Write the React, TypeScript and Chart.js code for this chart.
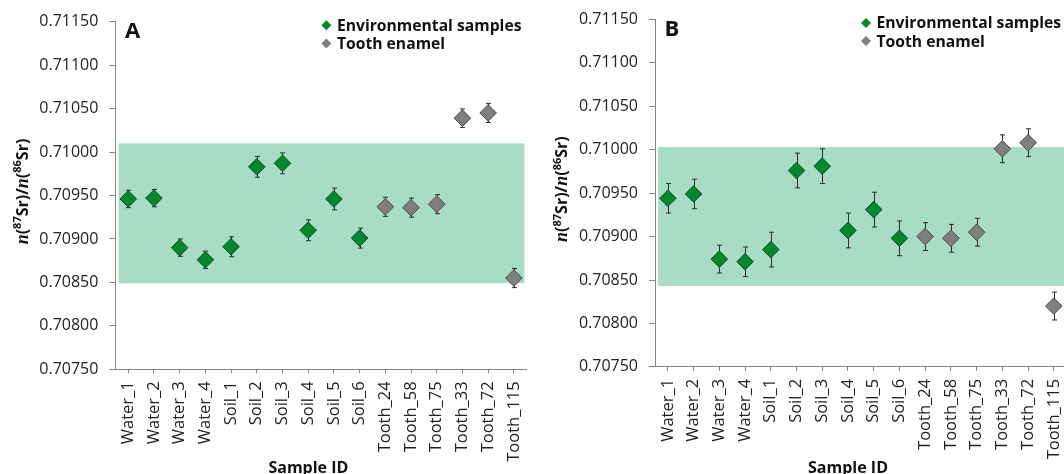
import React, { useEffect, useRef } from 'react';
import { Chart, registerables } from 'chart.js';

Chart.register(...registerables);

// ---------- data ----------
const categories = [
  'Water_1', 'Water_2', 'Water_3', 'Water_4',
  'Soil_1', 'Soil_2', 'Soil_3', 'Soil_4', 'Soil_5', 'Soil_6',
  'Tooth_24', 'Tooth_58', 'Tooth_75', 'Tooth_33', 'Tooth_72', 'Tooth_115',
];
const yMin = 0.7075;
const yMax = 0.7115;
const yStep = 0.0005;

const legendLabels = ['Environmental samples', 'Tooth enamel'];
const xTitle = 'Sample ID';

// Panel A
const envA = [0.70946, 0.70947, 0.70890, 0.70876, 0.70891, 0.70983, 0.70987, 0.70910, 0.70946, 0.70901];
const envErrA = [0.00010, 0.00010, 0.00010, 0.00010, 0.000115, 0.00012, 0.00012, 0.00012, 0.000125, 0.000115];
const toothA = [0.70937, 0.70936, 0.70940, 0.71039, 0.71045, 0.70855];
const toothErrA = [0.00011, 0.00011, 0.00011, 0.000106, 0.00011, 0.00011];
const bandA = [0.70849, 0.71010];

// Panel B
const envB = [0.70944, 0.70949, 0.70874, 0.70871, 0.70885, 0.70976, 0.70981, 0.70907, 0.70931, 0.70898];
const envErrB = [0.00017, 0.00017, 0.00016, 0.00017, 0.0002, 0.0002, 0.0002, 0.0002, 0.0002, 0.0002];
const toothB = [0.70900, 0.70898, 0.70905, 0.71001, 0.71008, 0.70820];
const toothErrB = [0.00016, 0.00016, 0.00016, 0.00016, 0.00016, 0.00016];
const bandB = [0.70843, 0.71003];

// ---------- styles ----------
const GREEN = '#00882f';
const GREEN_BORDER = '#1c4a24';
const GRAY = '#7f7f7f';
const GRAY_BORDER = '#4a4a4a';
const BAND = '#a8dcc5';
const AXIS = '#868686';
const TEXT = '#222222';
const FONT = "'Open Sans', sans-serif";

type PanelCfg = {
  letter: string;
  env: number[]; envErr: number[];
  tooth: number[]; toothErr: number[];
  band: number[];
  left: number; width: number;
  yAxisWidth: number; padTop: number; xAxisHeight: number; padRight: number;
};

const panels: PanelCfg[] = [
  {
    letter: 'A', env: envA, envErr: envErrA, tooth: toothA, toothErr: toothErrA, band: bandA,
    left: 0, width: 536, yAxisWidth: 115.4, padTop: 21.7, xAxisHeight: 474 - 369.3, padRight: 7,
  },
  {
    letter: 'B', env: envB, envErr: envErrB, tooth: toothB, toothErr: toothErrB, band: bandB,
    left: 536, width: 540, yAxisWidth: 119, padTop: 19.3, xAxisHeight: 474 - 366.9, padRight: 7.4,
  },
];

function diamond(ctx: CanvasRenderingContext2D, x: number, y: number, r: number) {
  ctx.beginPath();
  ctx.moveTo(x - r, y);
  ctx.lineTo(x, y - r);
  ctx.lineTo(x + r, y);
  ctx.lineTo(x, y + r);
  ctx.closePath();
}

function makePlugin(cfg: PanelCfg) {
  return {
    id: 'panelDecor' + cfg.letter,
    beforeDatasetsDraw(chart: any) {
      const { ctx, chartArea } = chart;
      const xs = chart.scales.x;
      const ys = chart.scales.y;
      // reference band
      ctx.save();
      ctx.fillStyle = BAND;
      const bx0 = xs.getPixelForValue(-0.38);
      const bx1 = Math.min(xs.getPixelForValue(15.41), chartArea.right);
      const by0 = ys.getPixelForValue(cfg.band[1]);
      const by1 = ys.getPixelForValue(cfg.band[0]);
      ctx.fillRect(bx0, by0, bx1 - bx0, by1 - by0);
      ctx.restore();
      // error bars
      ctx.save();
      ctx.strokeStyle = '#2b2b2b';
      ctx.lineWidth = 1;
      chart.data.datasets.forEach((ds: any, di: number) => {
        const meta = chart.getDatasetMeta(di);
        ds.data.forEach((v: number | null, i: number) => {
          if (v === null || v === undefined) return;
          const e = ds.errors[i];
          const px = Math.round(meta.data[i].x) + 0.5;
          const t = ys.getPixelForValue(v + e);
          const b = ys.getPixelForValue(v - e);
          ctx.beginPath();
          ctx.moveTo(px, t); ctx.lineTo(px, b);
          ctx.moveTo(px - 2.5, t); ctx.lineTo(px + 2.5, t);
          ctx.moveTo(px - 2.5, b); ctx.lineTo(px + 2.5, b);
          ctx.stroke();
        });
      });
      ctx.restore();
    },
    afterDraw(chart: any) {
      const { ctx, chartArea } = chart;
      const L = chartArea.left;
      const T = chartArea.top;
      ctx.save();
      // panel letter
      ctx.fillStyle = '#111';
      ctx.font = `bold 22px ${FONT}`;
      ctx.textAlign = 'left';
      ctx.textBaseline = 'alphabetic';
      ctx.fillText(cfg.letter, L + 9.5, T + 16.3);
      // legend
      const lx = L + 211;
      const rows = [T + 3.6, T + 21.8];
      const fills = [GREEN, GRAY];
      ctx.font = `bold 15.7px ${FONT}`;
      ctx.textBaseline = 'middle';
      legendLabels.forEach((lab, k) => {
        ctx.fillStyle = fills[k];
        diamond(ctx, lx, rows[k], 5);
        ctx.fill();
        ctx.fillStyle = '#111';
        ctx.fillText(lab, lx + 10.5, rows[k] + 1);
      });
      // x title
      ctx.font = `bold 16px ${FONT}`;
      ctx.textAlign = 'center';
      ctx.textBaseline = 'alphabetic';
      ctx.fillText(xTitle, L + 193, 473);
      // y title with rich text: n(87Sr)/n(86Sr)
      const segs = [
        { t: 'n', f: `italic bold 18px 'Liberation Serif', serif`, dy: 0 },
        { t: '(', f: `bold 16px ${FONT}`, dy: 0 },
        { t: '87', f: `bold 11px ${FONT}`, dy: -6.5 },
        { t: 'Sr)/', f: `bold 16px ${FONT}`, dy: 0 },
        { t: 'n', f: `italic bold 18px 'Liberation Serif', serif`, dy: 0 },
        { t: '(', f: `bold 16px ${FONT}`, dy: 0 },
        { t: '86', f: `bold 11px ${FONT}`, dy: -6.5 },
        { t: 'Sr)', f: `bold 16px ${FONT}`, dy: 0 },
      ];
      let total = 0;
      const widths = segs.map((s) => { ctx.font = s.f; const w = ctx.measureText(s.t).width; total += w; return w; });
      const cx = L - 93.4;
      const cy = (chartArea.top + chartArea.bottom) / 2 - 4;
      ctx.translate(cx, cy);
      ctx.rotate(-Math.PI / 2);
      ctx.textAlign = 'left';
      ctx.textBaseline = 'alphabetic';
      let x = -total / 2;
      segs.forEach((s, k) => {
        ctx.font = s.f;
        ctx.fillText(s.t, x, 5.8 + s.dy);
        x += widths[k];
      });
      ctx.restore();
    },
  };
}

function Panel({ cfg }: { cfg: PanelCfg }) {
  const ref = useRef<HTMLCanvasElement | null>(null);
  useEffect(() => {
    if (!ref.current) return;
    const nEnv = cfg.env.length;
    const nTooth = cfg.tooth.length;
    const envData = [...cfg.env, ...Array(nTooth).fill(null)];
    const envErr = [...cfg.envErr, ...Array(nTooth).fill(null)];
    const toothData = [...Array(nEnv).fill(null), ...cfg.tooth];
    const toothErr = [...Array(nEnv).fill(null), ...cfg.toothErr];
    const chart = new Chart(ref.current, {
      type: 'line',
      data: {
        labels: categories,
        datasets: [
          {
            label: legendLabels[0], data: envData, errors: envErr, showLine: false,
            pointStyle: 'rectRot', pointRadius: 8.3, pointHoverRadius: 8.3,
            pointBackgroundColor: GREEN, pointBorderColor: GREEN_BORDER, pointBorderWidth: 1,
            backgroundColor: GREEN, borderColor: GREEN_BORDER,
          } as any,
          {
            label: legendLabels[1], data: toothData, errors: toothErr, showLine: false,
            pointStyle: 'rectRot', pointRadius: 8.3, pointHoverRadius: 8.3,
            pointBackgroundColor: GRAY, pointBorderColor: GRAY_BORDER, pointBorderWidth: 1,
            backgroundColor: GRAY, borderColor: GRAY_BORDER,
          } as any,
        ],
      },
      options: {
        responsive: false,
        animation: false,
        devicePixelRatio: 1,
        layout: { padding: { left: 0, top: cfg.padTop, right: cfg.padRight, bottom: 0 } },
        plugins: { legend: { display: false }, tooltip: { enabled: false }, title: { display: false } },
        events: [],
        scales: {
          x: {
            type: 'category',
            offset: true,
            grid: { display: true, drawOnChartArea: false, tickLength: 4, color: AXIS, offset: false },
            border: { display: true, color: AXIS, width: 1 },
            ticks: {
              autoSkip: false, maxRotation: 90, minRotation: 90, padding: 8,
              color: TEXT, font: { family: FONT, size: 16.5 },
            },
            afterFit: (scale: any) => {
              scale.height = cfg.xAxisHeight;
              scale.paddingLeft = 0;
              scale.paddingRight = 0;
            },
          },
          y: {
            type: 'linear',
            min: yMin, max: yMax,
            grid: { display: true, drawOnChartArea: false, tickLength: 6, color: AXIS },
            border: { display: true, color: AXIS, width: 1 },
            ticks: {
              stepSize: yStep, padding: 11, color: TEXT,
              font: { family: FONT, size: 16 },
              callback: (v: any) => Number(v).toFixed(5),
            },
            afterFit: (scale: any) => {
              scale.width = cfg.yAxisWidth;
              scale.paddingTop = 0;
              scale.paddingBottom = 0;
            },
          },
        },
      } as any,
      plugins: [makePlugin(cfg)],
    });
    return () => chart.destroy();
  }, [cfg]);
  return (
    <canvas
      ref={ref}
      width={cfg.width}
      height={474}
      style={{ position: 'absolute', left: cfg.left, top: 0, width: cfg.width, height: 474 }}
    />
  );
}

export default function App() {
  return (
    <div
      style={{
        position: 'fixed', left: 0, top: 0, width: 1064, height: 474,
        overflow: 'hidden', background: '#ffffff',
      }}
    >
      {panels.map((p) => <Panel key={p.letter} cfg={p} />)}
    </div>
  );
}
